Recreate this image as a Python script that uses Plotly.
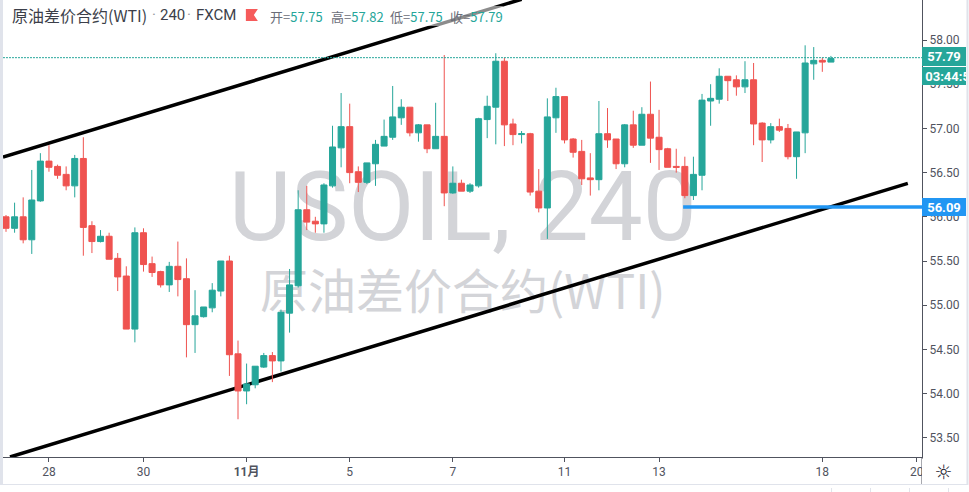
import plotly.graph_objects as go

# one row per candle
highs = [56.02,56.16,56.22,56.53,56.72,56.81,56.59,56.57,56.70,56.90,55.95,55.85,55.82,55.59,55.44,55.88,55.87,55.55,55.39,55.49,
         55.72,55.53,55.17,54.98,55.25,55.50,55.56,54.60,54.34,54.31,54.46,54.47,54.95,55.41,56.30,56.35,56.00,56.38,57.03,57.40,
         57.28,56.57,56.61,56.87,57.10,57.48,57.33,57.24,57.05,57.04,57.29,57.83,56.57,56.42,56.38,57.12,57.37,57.85,57.80,57.11,
         56.97,56.95,56.54,57.34,57.46,57.36,56.89,56.87,56.72,57.31,57.23,56.88,57.05,57.20,57.24,57.53,57.21,56.78,56.77,56.68,
         56.68,57.39,57.50,57.68,57.59,57.60,57.76,57.74,57.07,57.06,57.11,57.05,56.96,57.94,57.92,57.80,57.82]
lows = [55.83,55.82,55.70,55.58,56.17,56.51,56.43,56.30,56.22,55.56,55.59,55.71,55.52,55.16,54.73,54.58,55.38,55.32,55.20,55.15,
        55.10,54.41,54.46,54.86,54.92,55.10,54.20,53.71,53.88,54.06,54.29,54.13,54.25,54.69,55.20,55.85,55.82,55.82,56.33,56.56,
        56.38,56.28,56.37,56.35,56.80,56.87,57.04,56.91,56.85,56.72,56.77,56.12,56.26,56.29,56.27,56.33,56.89,56.82,56.80,56.81,
        56.83,56.24,56.05,55.75,56.95,56.83,56.67,56.36,56.24,56.30,56.78,56.54,56.56,56.78,56.81,56.61,56.53,56.56,56.50,56.21,
        56.19,56.30,57.03,57.28,57.31,57.37,57.40,56.81,56.62,56.83,56.96,56.65,56.43,56.72,57.55,57.64,57.75]
body_top = [56.00,56.00,56.00,56.19,56.63,56.63,56.57,56.48,56.66,56.66,55.90,55.78,55.78,55.53,55.33,55.82,55.82,55.47,55.38,55.44,
            55.44,55.30,54.88,54.98,55.17,55.50,55.50,54.45,54.11,54.31,54.43,54.43,54.92,55.23,56.08,56.08,55.95,56.36,56.79,57.02,
            57.02,56.51,56.61,56.82,56.91,57.13,57.24,57.24,57.04,57.04,56.91,56.91,56.38,56.38,56.36,57.11,57.25,57.76,57.76,57.05,
            56.94,56.94,56.29,57.13,57.36,57.36,56.88,56.74,56.44,56.94,56.94,56.88,57.04,57.04,57.16,57.16,56.90,56.77,56.57,56.57,
            56.48,57.32,57.34,57.59,57.59,57.55,57.55,57.55,57.06,57.02,57.02,57.00,56.96,57.74,57.77,57.77,57.79]
body_bottom = [55.87,55.87,55.74,55.74,56.18,56.56,56.47,56.35,56.35,55.88,55.72,55.72,55.52,55.32,54.73,54.73,55.46,55.37,55.23,55.23,
               55.29,54.78,54.78,54.87,54.97,55.16,54.44,54.03,54.03,54.10,54.30,54.37,54.37,54.91,55.22,55.94,55.92,55.92,56.35,56.78,
               56.50,56.39,56.39,56.60,56.80,56.90,57.12,56.95,56.95,56.77,56.77,56.27,56.27,56.29,56.29,56.35,57.10,57.24,57.04,56.93,
               56.93,56.28,56.10,56.10,57.12,56.87,56.73,56.43,56.42,56.42,56.87,56.60,56.60,56.81,56.81,56.89,56.76,56.56,56.56,56.24,
               56.24,56.47,57.31,57.33,57.54,57.47,57.47,57.05,56.87,56.87,56.98,56.68,56.68,56.95,57.73,57.75,57.75]
# True where the candle closed up (teal)
up = [0,1,0,1,1,0,0,0,1,0,0,1,0,0,0,1,0,0,0,1,
      0,0,1,1,1,1,0,0,1,1,1,0,1,1,1,0,0,1,1,1,
      0,0,1,1,1,1,1,0,1,0,1,0,1,0,1,1,1,1,0,0,
      1,0,0,1,1,0,0,0,0,1,0,0,1,0,1,0,0,0,0,0,
      1,1,1,1,0,0,1,0,0,1,0,0,1,1,1,0,1]

tick_positions = [5, 16, 28, 40, 52, 65, 76, 95, 106]
tick_labels = ["28", "30", "<b>11月</b>", "5", "7", "11", "13", "18", "20"]
price_ticks = [53.5, 54.0, 54.5, 55.0, 55.5, 56.0, 56.5, 57.0, 57.5, 58.0]

upper_trend_x = [-0.35, 60]
upper_trend_y = [56.676, 58.461]
lower_trend_x = [0.465, 104.95]
lower_trend_y = [53.283, 56.379]
level_x = [78.8, 106.6]
level_y = [56.11, 56.11]
last_price_x = [-0.35, 106.6]
last_price_y = [57.80, 57.80]

TEAL = "#26a69a"
RED = "#ef5350"
AXIS = "#50535e"
BLUE = "#2196f3"
MARK = "#d3d4d8"

idx = list(range(len(highs)))
opens = [b if u else t for t, b, u in zip(body_top, body_bottom, up)]
closes = [t if u else b for t, b, u in zip(body_top, body_bottom, up)]

W, H = 969, 492
L, R, B = 3, 46.5, 35
PW, PH = W - L - R, H - B


def px(x):
    return (x - L) / PW


def py(y):
    return 1 - y / PH


fig = go.Figure()
fig.add_trace(go.Candlestick(
    x=idx, open=opens, high=highs, low=lows, close=closes,
    increasing=dict(line=dict(color=TEAL, width=1), fillcolor=TEAL),
    decreasing=dict(line=dict(color=RED, width=1), fillcolor=RED),
    whiskerwidth=0, showlegend=False, hoverinfo="skip",
))
fig.add_trace(go.Scatter(x=last_price_x, y=last_price_y, mode="lines",
                         line=dict(color=TEAL, width=1, dash="2px,1px"),
                         showlegend=False, hoverinfo="skip"))
fig.add_trace(go.Scatter(x=level_x, y=level_y, mode="lines",
                         line=dict(color=BLUE, width=3.5),
                         showlegend=False, hoverinfo="skip"))

shapes = [
    dict(type="line", xref="x", yref="y", layer="below",
         x0=upper_trend_x[0], x1=upper_trend_x[1], y0=upper_trend_y[0], y1=upper_trend_y[1],
         line=dict(color="#000000", width=3.5)),
    dict(type="line", xref="x", yref="y", layer="below",
         x0=lower_trend_x[0], x1=lower_trend_x[1], y0=lower_trend_y[0], y1=lower_trend_y[1],
         line=dict(color="#000000", width=3.5)),
    # watermarks under the candles
    dict(type="rect", xref="paper", yref="paper", layer="below",
         x0=px(163), x1=px(763), y0=py(250), y1=py(150),
         line=dict(width=0), fillcolor="rgba(0,0,0,0)",
         label=dict(text="USOIL, 240", textposition="middle center",
                    font=dict(family="Roboto, sans-serif", size=96, color=MARK))),
    dict(type="rect", xref="paper", yref="paper", layer="below",
         x0=px(163), x1=px(763), y0=py(326), y1=py(266),
         line=dict(width=0), fillcolor="rgba(0,0,0,0)",
         label=dict(text="原油差价合约(WTI)", textposition="middle center",
                    font=dict(family="Noto Sans CJK SC", size=48, color=MARK))),
    # window frame
    dict(type="rect", xref="paper", yref="paper", layer="above", x0=px(0), x1=px(3), y0=py(0), y1=py(484),
         line=dict(width=0), fillcolor="#e0e3eb"),
    dict(type="rect", xref="paper", yref="paper", layer="above", x0=px(967), x1=px(969), y0=py(0), y1=py(484),
         line=dict(width=0), fillcolor="#e0e3eb"),
    dict(type="line", xref="paper", yref="paper", layer="above", x0=px(0), x1=px(969), y0=py(484.5), y1=py(484.5),
         line=dict(color="#e0e3eb", width=1)),
    # veil behind the header values
    dict(type="rect", xref="paper", yref="paper", layer="above", x0=px(264), x1=px(503), y0=py(26), y1=py(6),
         line=dict(width=0), fillcolor="rgba(255,255,255,0.55)"),
]
for sx in (832, 871, 910, 949):
    shapes.append(dict(type="line", xref="paper", yref="paper", layer="above",
                       x0=px(sx), x1=px(sx), y0=py(488), y1=py(492), line=dict(color="#e0e3eb", width=1)))
# flag marker in the header
shapes.append(dict(type="path", xref="paper", yref="paper", layer="above",
                   path=(f"M {px(246)} {py(9)} L {px(258)} {py(9)} L {px(254)} {py(15)} "
                         f"L {px(258)} {py(21)} L {px(246)} {py(21)} Z"),
                   line=dict(width=0), fillcolor="#f65b5b"))
shapes.append(dict(type="line", xref="paper", yref="paper", layer="above",
                   x0=px(922.5), x1=px(922.5), y0=py(457), y1=py(484), line=dict(color=AXIS, width=1)))


def label(text, x, y, **kw):
    base = dict(xref="paper", yref="paper", x=px(x), y=py(y), showarrow=False,
                xanchor="left", yanchor="middle", borderpad=0, borderwidth=0)
    base.update(kw)
    return dict(text=text, **base)


def val(v):
    return f'<span style="color:{TEAL}">{v}</span>'


header_font = dict(family="Noto Sans CJK SC", size=16, color="#3c3f4a")
header_latin = dict(family="Roboto", size=15, color="#3c3f4a")
ohlc_font = dict(family="Noto Sans CJK SC", size=13, color="#6a6d78")
annotations = [
    label("原油差价合约(WTI)", 12, 15, font=header_font),
    label("·", 152, 15, font=dict(family="Roboto", size=15, color="#9598a1")),
    label("240", 160, 15, font=header_latin),
    label("·", 187, 15, font=dict(family="Roboto", size=15, color="#9598a1")),
    label("FXCM", 196, 15, font=header_latin),
    label(f"开={val('57.75')}", 270, 16, font=ohlc_font),
    label(f"高={val('57.82')}", 331, 16, font=ohlc_font),
    label(f"低={val('57.75')}", 390, 16, font=ohlc_font),
    label(f"收={val('57.79')}", 450, 16, font=ohlc_font),
    label("<b>57.79</b>", 923, 56.8, width=44, height=19, bgcolor=TEAL, align="center",
          font=dict(family="Roboto", size=13, color="#ffffff")),
    label("&nbsp;<b>03:44:50</b>", 923, 76, width=44, height=18, bgcolor=TEAL, align="left",
          font=dict(family="Roboto", size=13, color="#ffffff")),
    label("<b>56.09</b>", 923, 207, width=44, height=18, bgcolor=BLUE, align="center",
          font=dict(family="Roboto", size=13, color="#ffffff")),
    label("☼", 923, 471, width=43, height=25, bgcolor="#ffffff", align="center",
          font=dict(family="DejaVu Sans", size=20, color="#1e222d")),
]

fig.update_layout(
    width=W, height=H, margin=dict(l=L, r=R, t=0, b=B, autoexpand=False),
    paper_bgcolor="#ffffff", plot_bgcolor="#ffffff", boxgap=0.3, boxgroupgap=0,
    shapes=shapes, annotations=annotations, showlegend=False,
    xaxis=dict(range=[-0.349, 106.6], rangeslider=dict(visible=False), showgrid=False, zeroline=False,
               tickmode="array", tickvals=tick_positions, ticktext=tick_labels,
               ticks="outside", ticklen=4, tickcolor=AXIS, showline=True, linecolor=AXIS, linewidth=1,
               tickfont=dict(family="Roboto, 'Noto Sans CJK SC'", size=12, color=AXIS)),
    yaxis=dict(range=[53.283, 58.4525], side="right", showgrid=False, zeroline=False,
               tickmode="array", tickvals=price_ticks, tickformat=".2f",
               ticks="outside", ticklen=4, tickcolor=AXIS, showline=True, linecolor=AXIS, linewidth=1,
               tickfont=dict(family="Roboto", size=12, color=AXIS)),
)
fig.write_html("out.html", config=dict(displayModeBar=False), post_script="document.body.style.margin='0';")
